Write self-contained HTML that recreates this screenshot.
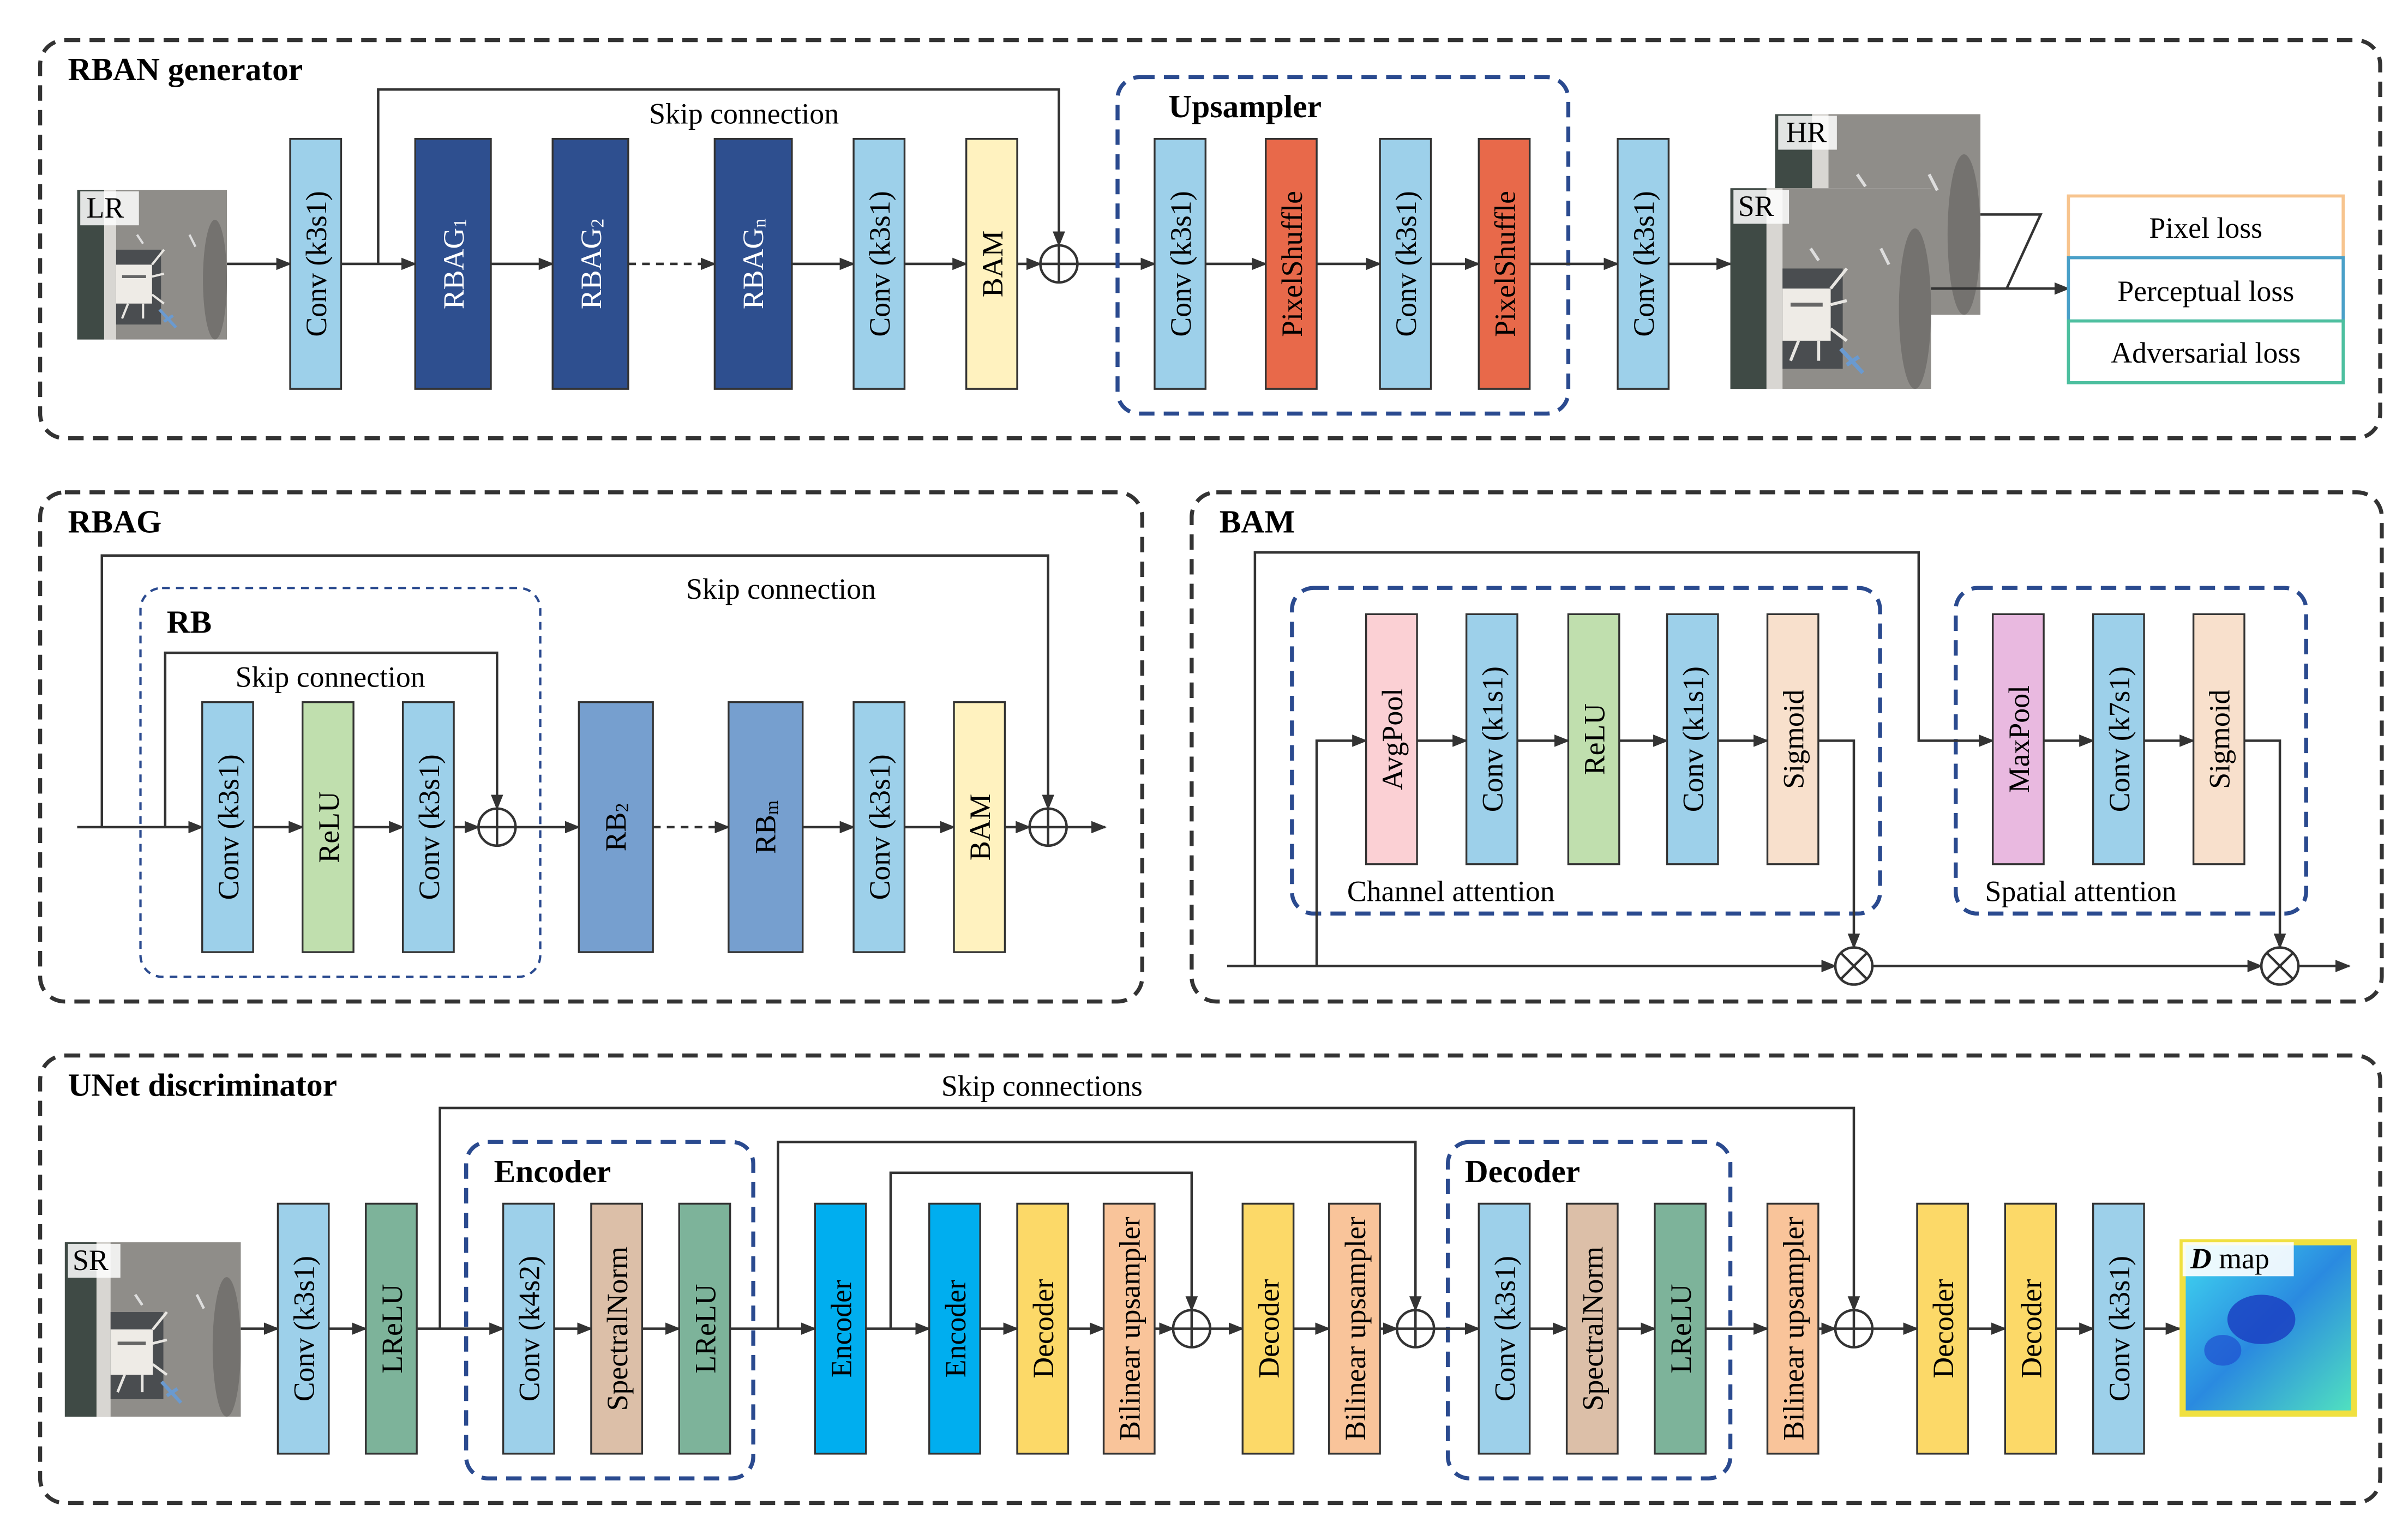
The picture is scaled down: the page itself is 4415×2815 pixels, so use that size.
<!DOCTYPE html>
<html><head><meta charset="utf-8"><style>
html,body{margin:0;padding:0;background:#fff;}
svg{display:block;}
text{font-family:"Liberation Serif",serif;fill:#000;}
.t{font-size:19px;}
.b{font-weight:bold;font-size:21px;}
.bx{stroke:#333;stroke-width:1.2;}
.ln{stroke:#333;stroke-width:1.6;fill:none;}
.pd{fill:none;stroke:#333;stroke-width:2.6;stroke-dasharray:10,6;}
.bd{fill:none;stroke:#2a4a8f;stroke-width:2.6;stroke-dasharray:10,6;}
.bd2{fill:none;stroke:#2a4a8f;stroke-width:1.5;stroke-dasharray:5,4;}
</style></head><body>
<svg width="4415" height="2815" viewBox="0 0 1560 994.7" preserveAspectRatio="none" xmlns="http://www.w3.org/2000/svg">
<defs>
<marker id="a" markerWidth="10" markerHeight="8" refX="9" refY="4" orient="auto" markerUnits="userSpaceOnUse"><path d="M0,0 L10,4 L0,8 z" fill="#333"/></marker>
<linearGradient id="dm" x1="0" y1="0" x2="1" y2="1"><stop offset="0" stop-color="#40d8f0"/><stop offset="0.5" stop-color="#2a8ae0"/><stop offset="1" stop-color="#50e0c0"/></linearGradient>
<g id="air">
<rect x="0" y="0" width="100" height="100" fill="#8f8d89"/>
<rect x="0" y="0" width="18" height="100" fill="#3f4a45"/>
<rect x="18" y="0" width="8" height="100" fill="#d8d6d2"/>
<rect x="26" y="40" width="30" height="50" fill="#4a4d50"/>
<rect x="26" y="50" width="24" height="26" fill="#eeebe6"/>
<line x1="30" y1="58" x2="46" y2="58" stroke="#666" stroke-width="2"/>
<path d="M50,50 L58,40 M50,58 L58,56 M50,70 L58,76 M34,76 L30,86 M44,76 L44,86" stroke="#e8e6e2" stroke-width="1.5"/>
<path d="M55,80 L66,92 M58,88 L64,84" stroke="#6a9ad0" stroke-width="2"/>
<ellipse cx="92" cy="60" rx="8" ry="40" fill="#5a5855" opacity="0.5"/>
<path d="M40,30 L44,36 M75,30 L79,38" stroke="#ddd" stroke-width="1.5"/>
</g>
</defs>
<rect width="1560" height="995" fill="#fff"/>

<!-- Panel 1 -->
<rect class="pd" x="26" y="26" width="1516" height="258" rx="16"/>
<text class="b" x="44" y="52">RBAN generator</text>
<use href="#air" transform="translate(50,123) scale(0.97)"/>
<rect x="52" y="124" width="38" height="22" fill="#fff" opacity="0.85"/><text class="t" x="56" y="141">LR</text>
<line class="ln" x1="147" y1="171" x2="188" y2="171" marker-end="url(#a)"/>
<g>
<rect class="bx" x="188" y="90" width="33" height="162" fill="#9dd0ea"/><text class="t" transform="translate(205,171) rotate(-90)" text-anchor="middle" dominant-baseline="central">Conv (k3s1)</text>
<line class="ln" x1="221" y1="171" x2="269" y2="171" marker-end="url(#a)"/>
<rect class="bx" x="269" y="90" width="49" height="162" fill="#2e4f8f"/><text class="t" style="fill:#fff" transform="translate(294,171) rotate(-90)" text-anchor="middle" dominant-baseline="central">RBAG<tspan font-size="12" dy="4">1</tspan></text>
<line class="ln" x1="318" y1="171" x2="358" y2="171" marker-end="url(#a)"/>
<rect class="bx" x="358" y="90" width="49" height="162" fill="#2e4f8f"/><text class="t" style="fill:#fff" transform="translate(383,171) rotate(-90)" text-anchor="middle" dominant-baseline="central">RBAG<tspan font-size="12" dy="4">2</tspan></text>
<line class="ln" x1="407" y1="171" x2="463" y2="171" stroke-dasharray="5,4" marker-end="url(#a)"/>
<rect class="bx" x="463" y="90" width="50" height="162" fill="#2e4f8f"/><text class="t" style="fill:#fff" transform="translate(488,171) rotate(-90)" text-anchor="middle" dominant-baseline="central">RBAG<tspan font-size="12" dy="4">n</tspan></text>
<line class="ln" x1="513" y1="171" x2="553" y2="171" marker-end="url(#a)"/>
<rect class="bx" x="553" y="90" width="33" height="162" fill="#9dd0ea"/><text class="t" transform="translate(570,171) rotate(-90)" text-anchor="middle" dominant-baseline="central">Conv (k3s1)</text>
<line class="ln" x1="586" y1="171" x2="626" y2="171" marker-end="url(#a)"/>
<rect class="bx" x="626" y="90" width="33" height="162" fill="#fff2bf"/><text class="t" transform="translate(643,171) rotate(-90)" text-anchor="middle" dominant-baseline="central">BAM</text>
<line class="ln" x1="659" y1="171" x2="674" y2="171" marker-end="url(#a)"/>
<circle class="ln" cx="686" cy="171" r="12"/><line class="ln" x1="674" y1="171" x2="698" y2="171"/><line class="ln" x1="686" y1="159" x2="686" y2="183"/>
<polyline class="ln" points="245,171 245,58 686,58 686,159" marker-end="url(#a)"/>
<text class="t" x="482" y="80" text-anchor="middle">Skip connection</text>
<line class="ln" x1="698" y1="171" x2="748" y2="171" marker-end="url(#a)"/>
<rect class="bd" x="724" y="50" width="292" height="218" rx="14"/>
<text class="b" x="757" y="76">Upsampler</text>
<rect class="bx" x="748" y="90" width="33" height="162" fill="#9dd0ea"/><text class="t" transform="translate(765,171) rotate(-90)" text-anchor="middle" dominant-baseline="central">Conv (k3s1)</text>
<line class="ln" x1="781" y1="171" x2="820" y2="171" marker-end="url(#a)"/>
<rect class="bx" x="820" y="90" width="33" height="162" fill="#e8694a"/><text class="t" transform="translate(837,171) rotate(-90)" text-anchor="middle" dominant-baseline="central">PixelShuffle</text>
<line class="ln" x1="853" y1="171" x2="894" y2="171" marker-end="url(#a)"/>
<rect class="bx" x="894" y="90" width="33" height="162" fill="#9dd0ea"/><text class="t" transform="translate(911,171) rotate(-90)" text-anchor="middle" dominant-baseline="central">Conv (k3s1)</text>
<line class="ln" x1="927" y1="171" x2="958" y2="171" marker-end="url(#a)"/>
<rect class="bx" x="958" y="90" width="33" height="162" fill="#e8694a"/><text class="t" transform="translate(975,171) rotate(-90)" text-anchor="middle" dominant-baseline="central">PixelShuffle</text>
<line class="ln" x1="991" y1="171" x2="1048" y2="171" marker-end="url(#a)"/>
<rect class="bx" x="1048" y="90" width="33" height="162" fill="#9dd0ea"/><text class="t" transform="translate(1065,171) rotate(-90)" text-anchor="middle" dominant-baseline="central">Conv (k3s1)</text>
<line class="ln" x1="1081" y1="171" x2="1121" y2="171" marker-end="url(#a)"/>
</g>
<use href="#air" transform="translate(1150,74) scale(1.33,1.30)"/>
<rect x="1152" y="75" width="38" height="22" fill="#fff" opacity="0.85"/><text class="t" x="1157" y="92">HR</text>
<rect x="1121" y="122" width="130" height="130" fill="#fff"/>
<use href="#air" transform="translate(1121,122) scale(1.30)"/>
<rect x="1123" y="123" width="36" height="22" fill="#fff" opacity="0.85"/><text class="t" x="1126" y="140">SR</text>
<polyline class="ln" points="1283,139 1322,139 1300,187"/>
<line class="ln" x1="1251" y1="187" x2="1340" y2="187" marker-end="url(#a)"/>
<rect x="1340" y="127" width="178" height="40" fill="#fff" stroke="#f7c48e" stroke-width="2"/><text class="t" x="1429" y="154" text-anchor="middle" font-size="22">Pixel loss</text>
<rect x="1340" y="167" width="178" height="41" fill="#fff" stroke="#4aa0c8" stroke-width="2"/><text class="t" x="1429" y="195" text-anchor="middle" font-size="22">Perceptual loss</text>
<rect x="1340" y="208" width="178" height="40" fill="#fff" stroke="#4dbf9f" stroke-width="2"/><text class="t" x="1429" y="235" text-anchor="middle" font-size="22">Adversarial loss</text>

<!-- Panel 2 RBAG -->
<rect class="pd" x="26" y="319" width="714" height="330" rx="16"/>
<text class="b" x="44" y="345">RBAG</text>
<rect class="bd2" x="91" y="381" width="259" height="252" rx="14"/>
<text class="b" x="108" y="410">RB</text>
<line class="ln" x1="50" y1="536" x2="131" y2="536" marker-end="url(#a)"/>
<polyline class="ln" points="66,536 66,360 679,360 679,524" marker-end="url(#a)"/>
<polyline class="ln" points="107,536 107,423 322,423 322,524" marker-end="url(#a)"/>
<text class="t" x="506" y="388" text-anchor="middle">Skip connection</text>
<text class="t" x="214" y="445" text-anchor="middle">Skip connection</text>
<rect class="bx" x="131" y="455" width="33" height="162" fill="#9dd0ea"/><text class="t" transform="translate(148,536) rotate(-90)" text-anchor="middle" dominant-baseline="central">Conv (k3s1)</text>
<line class="ln" x1="164" y1="536" x2="196" y2="536" marker-end="url(#a)"/>
<rect class="bx" x="196" y="455" width="33" height="162" fill="#c0dfae"/><text class="t" transform="translate(213,536) rotate(-90)" text-anchor="middle" dominant-baseline="central">ReLU</text>
<line class="ln" x1="229" y1="536" x2="261" y2="536" marker-end="url(#a)"/>
<rect class="bx" x="261" y="455" width="33" height="162" fill="#9dd0ea"/><text class="t" transform="translate(278,536) rotate(-90)" text-anchor="middle" dominant-baseline="central">Conv (k3s1)</text>
<line class="ln" x1="294" y1="536" x2="310" y2="536" marker-end="url(#a)"/>
<circle class="ln" cx="322" cy="536" r="12"/><line class="ln" x1="310" y1="536" x2="334" y2="536"/><line class="ln" x1="322" y1="524" x2="322" y2="548"/>
<line class="ln" x1="334" y1="536" x2="375" y2="536" marker-end="url(#a)"/>
<rect class="bx" x="375" y="455" width="48" height="162" fill="#769fcf"/><text class="t" transform="translate(399,536) rotate(-90)" text-anchor="middle" dominant-baseline="central">RB<tspan font-size="12" dy="4">2</tspan></text>
<line class="ln" x1="423" y1="536" x2="472" y2="536" stroke-dasharray="5,4" marker-end="url(#a)"/>
<rect class="bx" x="472" y="455" width="48" height="162" fill="#769fcf"/><text class="t" transform="translate(496,536) rotate(-90)" text-anchor="middle" dominant-baseline="central">RB<tspan font-size="12" dy="4">m</tspan></text>
<line class="ln" x1="520" y1="536" x2="553" y2="536" marker-end="url(#a)"/>
<rect class="bx" x="553" y="455" width="33" height="162" fill="#9dd0ea"/><text class="t" transform="translate(570,536) rotate(-90)" text-anchor="middle" dominant-baseline="central">Conv (k3s1)</text>
<line class="ln" x1="586" y1="536" x2="618" y2="536" marker-end="url(#a)"/>
<rect class="bx" x="618" y="455" width="33" height="162" fill="#fff2bf"/><text class="t" transform="translate(635,536) rotate(-90)" text-anchor="middle" dominant-baseline="central">BAM</text>
<line class="ln" x1="651" y1="536" x2="667" y2="536" marker-end="url(#a)"/>
<circle class="ln" cx="679" cy="536" r="12"/><line class="ln" x1="667" y1="536" x2="691" y2="536"/><line class="ln" x1="679" y1="524" x2="679" y2="548"/>
<line class="ln" x1="691" y1="536" x2="716" y2="536" marker-end="url(#a)"/>

<!-- Panel 3 BAM -->
<rect class="pd" x="772" y="319" width="771" height="330" rx="16"/>
<text class="b" x="790" y="345">BAM</text>
<rect class="bd" x="837" y="381" width="381" height="211" rx="14"/>
<rect class="bd" x="1267" y="381" width="227" height="211" rx="14"/>
<text class="t" x="940" y="584" text-anchor="middle">Channel attention</text>
<text class="t" x="1348" y="584" text-anchor="middle">Spatial attention</text>
<line class="ln" x1="795" y1="626" x2="1189" y2="626" marker-end="url(#a)"/>
<line class="ln" x1="1213" y1="626" x2="1465" y2="626" marker-end="url(#a)"/>
<line class="ln" x1="1489" y1="626" x2="1522" y2="626" marker-end="url(#a)"/>
<polyline class="ln" points="813,626 813,358 1243,358 1243,480 1291,480" marker-end="url(#a)"/>
<polyline class="ln" points="853,626 853,480 885,480" marker-end="url(#a)"/>
<polyline class="ln" points="1178,480 1201,480 1201,614" marker-end="url(#a)"/>
<polyline class="ln" points="1454,480 1477,480 1477,614" marker-end="url(#a)"/>
<g>
<circle class="ln" cx="1201" cy="626" r="12"/><line class="ln" x1="1193" y1="618" x2="1209" y2="634"/><line class="ln" x1="1209" y1="618" x2="1193" y2="634"/>
<circle class="ln" cx="1477" cy="626" r="12"/><line class="ln" x1="1469" y1="618" x2="1485" y2="634"/><line class="ln" x1="1485" y1="618" x2="1469" y2="634"/>
</g>
<rect class="bx" x="885" y="398" width="33" height="162" fill="#fbd0d4"/><text class="t" transform="translate(902,479) rotate(-90)" text-anchor="middle" dominant-baseline="central">AvgPool</text>
<line class="ln" x1="918" y1="480" x2="950" y2="480" marker-end="url(#a)"/>
<rect class="bx" x="950" y="398" width="33" height="162" fill="#9dd0ea"/><text class="t" transform="translate(967,479) rotate(-90)" text-anchor="middle" dominant-baseline="central">Conv (k1s1)</text>
<line class="ln" x1="983" y1="480" x2="1016" y2="480" marker-end="url(#a)"/>
<rect class="bx" x="1016" y="398" width="33" height="162" fill="#c0dfae"/><text class="t" transform="translate(1033,479) rotate(-90)" text-anchor="middle" dominant-baseline="central">ReLU</text>
<line class="ln" x1="1049" y1="480" x2="1080" y2="480" marker-end="url(#a)"/>
<rect class="bx" x="1080" y="398" width="33" height="162" fill="#9dd0ea"/><text class="t" transform="translate(1097,479) rotate(-90)" text-anchor="middle" dominant-baseline="central">Conv (k1s1)</text>
<line class="ln" x1="1113" y1="480" x2="1145" y2="480" marker-end="url(#a)"/>
<rect class="bx" x="1145" y="398" width="33" height="162" fill="#f8e0cc"/><text class="t" transform="translate(1162,479) rotate(-90)" text-anchor="middle" dominant-baseline="central">Sigmoid</text>
<rect class="bx" x="1291" y="398" width="33" height="162" fill="#e9b9e0"/><text class="t" transform="translate(1308,479) rotate(-90)" text-anchor="middle" dominant-baseline="central">MaxPool</text>
<line class="ln" x1="1324" y1="480" x2="1356" y2="480" marker-end="url(#a)"/>
<rect class="bx" x="1356" y="398" width="33" height="162" fill="#9dd0ea"/><text class="t" transform="translate(1373,479) rotate(-90)" text-anchor="middle" dominant-baseline="central">Conv (k7s1)</text>
<line class="ln" x1="1389" y1="480" x2="1421" y2="480" marker-end="url(#a)"/>
<rect class="bx" x="1421" y="398" width="33" height="162" fill="#f8e0cc"/><text class="t" transform="translate(1438,479) rotate(-90)" text-anchor="middle" dominant-baseline="central">Sigmoid</text>

<!-- Panel 4 UNet -->
<rect class="pd" x="26" y="684" width="1516" height="290" rx="16"/>
<text class="b" x="44" y="710">UNet discriminator</text>
<text class="t" x="675" y="710" text-anchor="middle">Skip connections</text>
<use href="#air" transform="translate(42,805) scale(1.14,1.13)"/>
<rect x="44" y="806" width="34" height="22" fill="#fff" opacity="0.85"/><text class="t" x="47" y="823">SR</text>
<rect class="bd" x="302" y="740" width="186" height="218" rx="14"/>
<text class="b" x="320" y="766">Encoder</text>
<rect class="bd" x="938" y="740" width="183" height="218" rx="14"/>
<text class="b" x="949" y="766">Decoder</text>
<polyline class="ln" points="285,861 285,718 1201,718 1201,849" marker-end="url(#a)"/>
<polyline class="ln" points="504,861 504,740 917,740 917,849" marker-end="url(#a)"/>
<polyline class="ln" points="577,861 577,760 772,760 772,849" marker-end="url(#a)"/>
<line class="ln" x1="156" y1="861" x2="180" y2="861" marker-end="url(#a)"/>
<rect class="bx" x="180" y="780" width="33" height="162" fill="#9dd0ea"/><text class="t" transform="translate(197,861) rotate(-90)" text-anchor="middle" dominant-baseline="central">Conv (k3s1)</text>
<line class="ln" x1="213" y1="861" x2="237" y2="861" marker-end="url(#a)"/>
<rect class="bx" x="237" y="780" width="33" height="162" fill="#7db39a"/><text class="t" transform="translate(254,861) rotate(-90)" text-anchor="middle" dominant-baseline="central">LReLU</text>
<line class="ln" x1="270" y1="861" x2="326" y2="861" marker-end="url(#a)"/>
<rect class="bx" x="326" y="780" width="33" height="162" fill="#9dd0ea"/><text class="t" transform="translate(343,861) rotate(-90)" text-anchor="middle" dominant-baseline="central">Conv (k4s2)</text>
<line class="ln" x1="359" y1="861" x2="383" y2="861" marker-end="url(#a)"/>
<rect class="bx" x="383" y="780" width="33" height="162" fill="#dcbfa8"/><text class="t" transform="translate(400,861) rotate(-90)" text-anchor="middle" dominant-baseline="central">SpectralNorm</text>
<line class="ln" x1="416" y1="861" x2="440" y2="861" marker-end="url(#a)"/>
<rect class="bx" x="440" y="780" width="33" height="162" fill="#7db39a"/><text class="t" transform="translate(457,861) rotate(-90)" text-anchor="middle" dominant-baseline="central">LReLU</text>
<line class="ln" x1="473" y1="861" x2="528" y2="861" marker-end="url(#a)"/>
<rect class="bx" x="528" y="780" width="33" height="162" fill="#00aeef"/><text class="t" transform="translate(545,861) rotate(-90)" text-anchor="middle" dominant-baseline="central">Encoder</text>
<line class="ln" x1="561" y1="861" x2="602" y2="861" marker-end="url(#a)"/>
<rect class="bx" x="602" y="780" width="33" height="162" fill="#00aeef"/><text class="t" transform="translate(619,861) rotate(-90)" text-anchor="middle" dominant-baseline="central">Encoder</text>
<line class="ln" x1="635" y1="861" x2="659" y2="861" marker-end="url(#a)"/>
<rect class="bx" x="659" y="780" width="33" height="162" fill="#fcd968"/><text class="t" transform="translate(676,861) rotate(-90)" text-anchor="middle" dominant-baseline="central">Decoder</text>
<line class="ln" x1="692" y1="861" x2="715" y2="861" marker-end="url(#a)"/>
<rect class="bx" x="715" y="780" width="33" height="162" fill="#f9c49a"/><text class="t" transform="translate(732,861) rotate(-90)" text-anchor="middle" dominant-baseline="central">Bilinear upsampler</text>
<line class="ln" x1="748" y1="861" x2="760" y2="861" marker-end="url(#a)"/>
<circle class="ln" cx="772" cy="861" r="12"/><line class="ln" x1="760" y1="861" x2="784" y2="861"/><line class="ln" x1="772" y1="849" x2="772" y2="873"/>
<line class="ln" x1="784" y1="861" x2="805" y2="861" marker-end="url(#a)"/>
<rect class="bx" x="805" y="780" width="33" height="162" fill="#fcd968"/><text class="t" transform="translate(822,861) rotate(-90)" text-anchor="middle" dominant-baseline="central">Decoder</text>
<line class="ln" x1="838" y1="861" x2="861" y2="861" marker-end="url(#a)"/>
<rect class="bx" x="861" y="780" width="33" height="162" fill="#f9c49a"/><text class="t" transform="translate(878,861) rotate(-90)" text-anchor="middle" dominant-baseline="central">Bilinear upsampler</text>
<line class="ln" x1="894" y1="861" x2="905" y2="861" marker-end="url(#a)"/>
<circle class="ln" cx="917" cy="861" r="12"/><line class="ln" x1="905" y1="861" x2="929" y2="861"/><line class="ln" x1="917" y1="849" x2="917" y2="873"/>
<line class="ln" x1="929" y1="861" x2="958" y2="861" marker-end="url(#a)"/>
<rect class="bx" x="958" y="780" width="33" height="162" fill="#9dd0ea"/><text class="t" transform="translate(975,861) rotate(-90)" text-anchor="middle" dominant-baseline="central">Conv (k3s1)</text>
<line class="ln" x1="991" y1="861" x2="1015" y2="861" marker-end="url(#a)"/>
<rect class="bx" x="1015" y="780" width="33" height="162" fill="#dcbfa8"/><text class="t" transform="translate(1032,861) rotate(-90)" text-anchor="middle" dominant-baseline="central">SpectralNorm</text>
<line class="ln" x1="1048" y1="861" x2="1072" y2="861" marker-end="url(#a)"/>
<rect class="bx" x="1072" y="780" width="33" height="162" fill="#7db39a"/><text class="t" transform="translate(1089,861) rotate(-90)" text-anchor="middle" dominant-baseline="central">LReLU</text>
<line class="ln" x1="1105" y1="861" x2="1145" y2="861" marker-end="url(#a)"/>
<rect class="bx" x="1145" y="780" width="33" height="162" fill="#f9c49a"/><text class="t" transform="translate(1162,861) rotate(-90)" text-anchor="middle" dominant-baseline="central">Bilinear upsampler</text>
<line class="ln" x1="1178" y1="861" x2="1189" y2="861" marker-end="url(#a)"/>
<circle class="ln" cx="1201" cy="861" r="12"/><line class="ln" x1="1189" y1="861" x2="1213" y2="861"/><line class="ln" x1="1201" y1="849" x2="1201" y2="873"/>
<line class="ln" x1="1213" y1="861" x2="1242" y2="861" marker-end="url(#a)"/>
<rect class="bx" x="1242" y="780" width="33" height="162" fill="#fcd968"/><text class="t" transform="translate(1259,861) rotate(-90)" text-anchor="middle" dominant-baseline="central">Decoder</text>
<line class="ln" x1="1275" y1="861" x2="1299" y2="861" marker-end="url(#a)"/>
<rect class="bx" x="1299" y="780" width="33" height="162" fill="#fcd968"/><text class="t" transform="translate(1316,861) rotate(-90)" text-anchor="middle" dominant-baseline="central">Decoder</text>
<line class="ln" x1="1332" y1="861" x2="1356" y2="861" marker-end="url(#a)"/>
<rect class="bx" x="1356" y="780" width="33" height="162" fill="#9dd0ea"/><text class="t" transform="translate(1373,861) rotate(-90)" text-anchor="middle" dominant-baseline="central">Conv (k3s1)</text>
<line class="ln" x1="1389" y1="861" x2="1412" y2="861" marker-end="url(#a)"/>
<rect x="1412" y="803" width="115" height="115" fill="#f0e040"/>
<rect x="1416" y="807" width="107" height="107" fill="url(#dm)"/>
<ellipse cx="1465" cy="855" rx="22" ry="16" fill="#1a3cc0" opacity="0.8"/>
<ellipse cx="1440" cy="875" rx="12" ry="10" fill="#2050d0" opacity="0.7"/>
<rect x="1414" y="805" width="72" height="22" fill="#fff" opacity="0.9"/>
<text class="t" x="1419" y="822"><tspan font-style="italic" font-weight="bold">D</tspan> map</text>
</svg>
</body></html>
